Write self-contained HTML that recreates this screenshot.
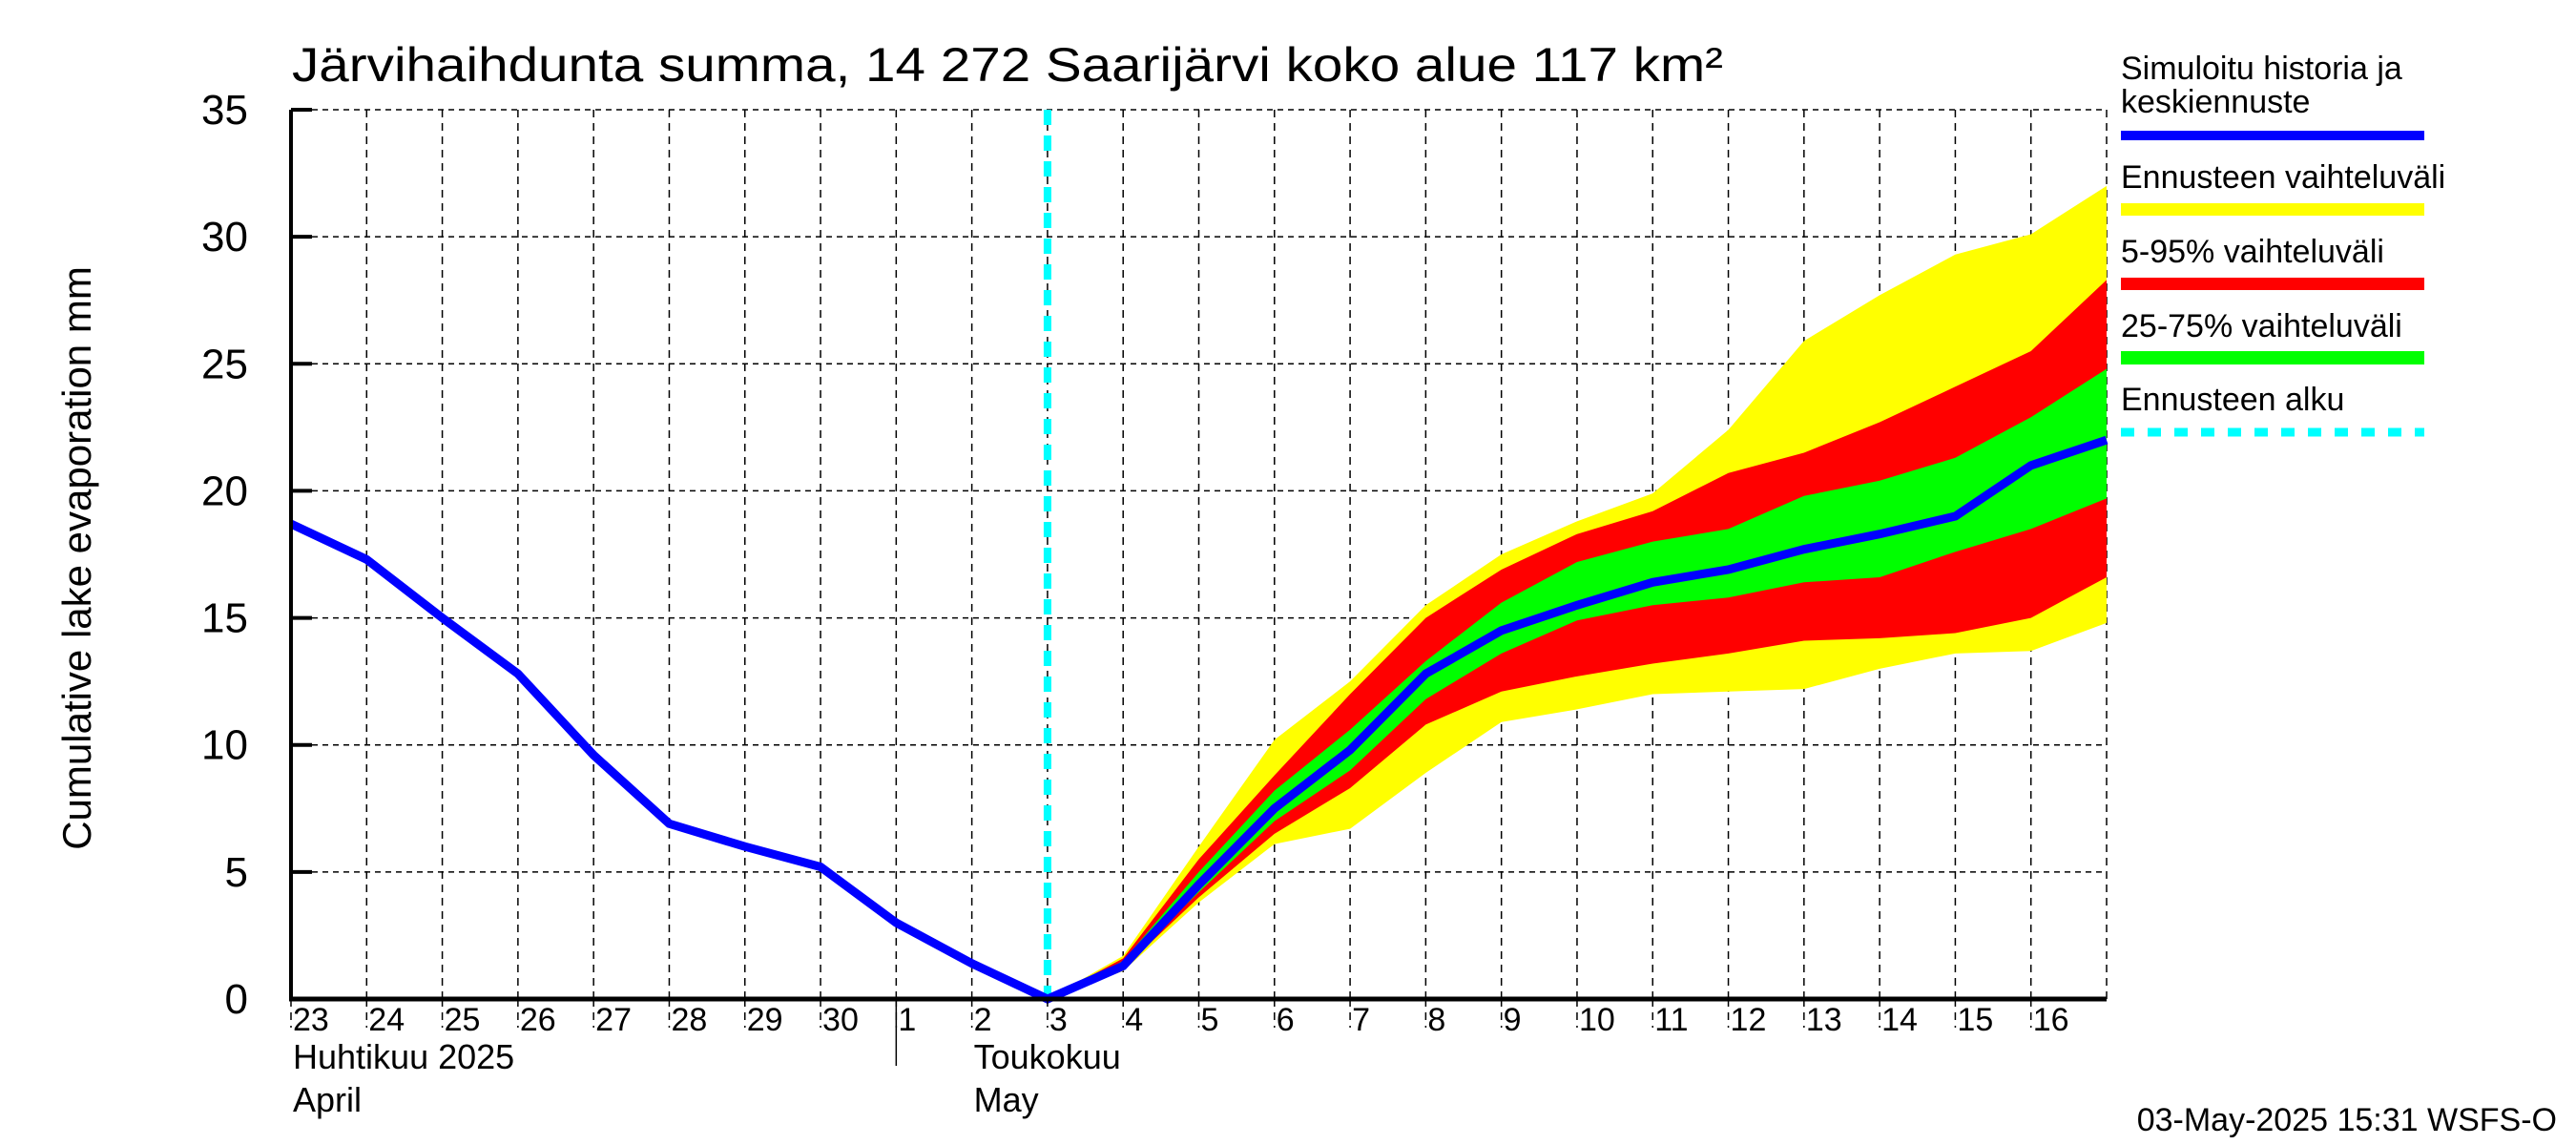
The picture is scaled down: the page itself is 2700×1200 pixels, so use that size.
<!DOCTYPE html>
<html><head><meta charset="utf-8"><style>
html,body{margin:0;padding:0;background:#fff;}
svg{display:block;font-family:"Liberation Sans",sans-serif;}
</style></head><body>
<svg id="chart" width="2700" height="1200" viewBox="0 0 2700 1200" xmlns="http://www.w3.org/2000/svg">
<rect width="2700" height="1200" fill="#fff"/>
<text x="306" y="85" font-size="50" textLength="1500" lengthAdjust="spacingAndGlyphs">Järvihaihdunta summa, 14 272 Saarijärvi koko alue 117 km²</text>
<text transform="translate(95,585) rotate(-90)" text-anchor="middle" font-size="42">Cumulative lake evaporation   mm</text>
<g id="grid"></g>
<g id="bands"></g>
<g id="lines"></g>
<g id="axes"></g>
<g font-size="34">
<text x="2223" y="83">Simuloitu historia ja</text>
<text x="2223" y="118">keskiennuste</text>
<rect x="2223" y="137" width="318" height="10" fill="#0000ff"/>
<text x="2223" y="197">Ennusteen vaihteluväli</text>
<rect x="2223" y="213" width="318" height="13" fill="#ffff00"/>
<text x="2223" y="275">5-95% vaihteluväli</text>
<rect x="2223" y="291" width="318" height="13" fill="#ff0000"/>
<text x="2223" y="353">25-75% vaihteluväli</text>
<rect x="2223" y="368" width="318" height="14" fill="#00ff00"/>
<text x="2223" y="430">Ennusteen alku</text>
<line x1="2223" y1="453" x2="2541" y2="453" stroke="#00ffff" stroke-width="9" stroke-dasharray="14,14"/>
</g>
<text x="2680" y="1185" text-anchor="end" font-size="34">03-May-2025 15:31 WSFS-O</text>
</svg>
<script>
const dayLabels = ["23","24","25","26","27","28","29","30","1","2","3","4","5","6","7","8","9","10","11","12","13","14","15","16"];
const yTicks = [0,5,10,15,20,25,30,35];
const historyValues = [18.7,17.3,15.0,12.8,9.6,6.9,6.0,5.2,3.0,1.4,0];
const forecastStart = 10;
const median = [0,1.3,4.5,7.5,9.8,12.8,14.5,15.5,16.4,16.9,17.7,18.3,19.0,21.0,22.0];
const yellowMax = [0,1.7,6.0,10.2,12.5,15.5,17.5,18.8,19.9,22.4,25.9,27.7,29.3,30.1,32.0];
const yellowMin = [0,1.1,3.8,6.1,6.7,8.9,10.9,11.4,12.0,12.1,12.2,13.0,13.6,13.7,14.8];
const redMax = [0,1.6,5.5,8.8,12.0,15.0,16.9,18.3,19.2,20.7,21.5,22.7,24.1,25.5,28.3];
const redMin = [0,1.2,4.0,6.5,8.3,10.8,12.1,12.7,13.2,13.6,14.1,14.2,14.4,15.0,16.6];
const greenMax = [0,1.5,5.0,8.2,10.6,13.3,15.6,17.2,18.0,18.5,19.8,20.4,21.3,22.9,24.8];
const greenMin = [0,1.3,4.2,7.0,9.0,11.8,13.6,14.9,15.5,15.8,16.4,16.6,17.6,18.5,19.7];

const NS="http://www.w3.org/2000/svg";
const L=305,R=2208,T=115,B=1047,NDAYS=24,YMAX=35;
const xs=i=>L+(R-L)*i/NDAYS;
const ys=v=>B-(B-T)*v/YMAX;
function mk(tag,attrs,parent){const e=document.createElementNS(NS,tag);for(const k in attrs)e.setAttribute(k,attrs[k]);parent.appendChild(e);return e;}
const grid=document.getElementById('grid'),bands=document.getElementById('bands'),lines=document.getElementById('lines'),axes=document.getElementById('axes');

for(let i=1;i<=NDAYS;i++){
  const g=mk('line',{x1:xs(i),y1:T,x2:xs(i),y2:B,stroke:'#000','stroke-width':1.5,'stroke-dasharray':'8,6'},grid);
  
  
}
yTicks.forEach(v=>{
  if(v===0)return;
  const g=mk('line',{x1:L,y1:ys(v),x2:R,y2:ys(v),stroke:'#000','stroke-width':1.5,'stroke-dasharray':'6,5'},grid);
  
  
});

function band(up,lo,color,name){
  let pts=[];
  up.forEach((v,i)=>pts.push(xs(forecastStart+i)+','+ys(v)));
  for(let i=lo.length-1;i>=0;i--)pts.push(xs(forecastStart+i)+','+ys(lo[i]));
  const p=mk('polygon',{points:pts.join(' '),fill:color},bands);
  
  
}
band(yellowMax,yellowMin,'#ffff00','band-forecast-range');
band(redMax,redMin,'#ff0000','band-5-95');
band(greenMax,greenMin,'#00ff00','band-25-75');

const cy=mk('line',{x1:xs(forecastStart),y1:T,x2:xs(forecastStart),y2:B,stroke:'#00ffff','stroke-width':8,'stroke-dasharray':'16,11'},lines);



let pts=historyValues.map((v,i)=>xs(i)+','+ys(v));
median.forEach((v,i)=>{if(i>0)pts.push(xs(forecastStart+i)+','+ys(v));});
const ml=mk('polyline',{points:pts.join(' '),fill:'none',stroke:'#0000ff','stroke-width':9,'stroke-linejoin':'miter'},lines);



const ya=mk('line',{x1:L,y1:T,x2:L,y2:B+2,stroke:'#000','stroke-width':4},axes);


const xa=mk('line',{x1:L-2,y1:B,x2:R,y2:B,stroke:'#000','stroke-width':5},axes);


yTicks.forEach(v=>{
  const t=mk('line',{x1:L,y1:ys(v),x2:L+22,y2:ys(v),stroke:'#000','stroke-width':4},axes);
  
  
  const tx=mk('text',{x:L-45,y:ys(v)+15,'text-anchor':'end','font-size':44},axes);
  
  
  tx.textContent=v;
});
dayLabels.forEach((d,i)=>{
  const t=mk('line',{x1:xs(i),y1:B,x2:xs(i),y2:B+30,stroke:'#000','stroke-width':1.5,'stroke-dasharray':'8,6'},axes);
  
  
  const tx=mk('text',{x:xs(i)+2,y:1080,'font-size':34},axes);
  
  
  tx.textContent=d;
});
const sep=mk('line',{x1:xs(8),y1:B,x2:xs(8),y2:1117,stroke:'#000','stroke-width':1.5},axes);


[["Huhtikuu  2025",xs(0)+2,1120],["April",xs(0)+2,1165],["Toukokuu",xs(9)+2,1120],["May",xs(9)+2,1165]].forEach(m=>{
  const tx=mk('text',{x:m[1],y:m[2],'font-size':36,'xml:space':'preserve'},axes);
  
  
  tx.textContent=m[0];
});
</script>
</body></html>
